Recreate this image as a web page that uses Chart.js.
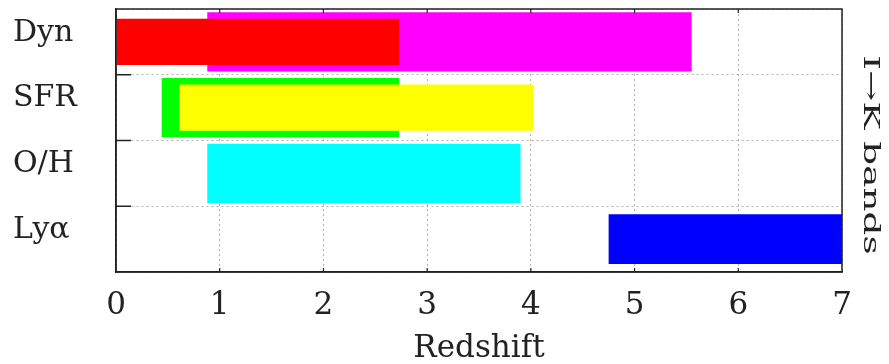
<!DOCTYPE html>
<html>
<head>
<meta charset="utf-8">
<script src="https://cdn.jsdelivr.net/npm/chart.js@4"></script>
<style>
  html, body { margin: 0; padding: 0; background: #ffffff; }
  #wrap { width: 889px; height: 364px; position: relative; }
</style>
</head>
<body>
<div id="wrap"><canvas id="c" width="889" height="364"></canvas></div>
<script>
// ---- data ----
const categories = ['Dyn', 'SFR', 'O/H', 'Ly\u03B1'];
const wideRanges = [[0.88, 5.55], [0.44, 2.73], [0.88, 3.90], null];
const wideColors = ['#ff00ff', '#00ff00', '#00ffff', '#0000ff'];
const narrowRanges = [[0, 2.73], [0.61, 4.02], null, null];
const narrowColors = ['#ff0000', '#ffff00', '#ff0000', '#ff0000'];
const lyaRanges = [null, null, null, [4.75, 7]];
const lyaColors = ['#0000ff', '#0000ff', '#0000ff', '#0000ff'];
const xTicks = [0, 1, 2, 3, 4, 5, 6, 7];
const xTitle = 'Redshift';
const rightLabel = 'I\u2192K bands';

const FONT = '"DejaVu Serif", "Liberation Serif", serif';
const INK = '#222222';
const GRID = '#b0b0b0';

const framePlugin = {
  id: 'frame',
  afterDraw(chart) {
    const { ctx, chartArea: a, scales } = chart;
    ctx.save();
    ctx.strokeStyle = INK;
    ctx.lineWidth = 1.5;
    ctx.strokeRect(a.left, a.top, a.right - a.left, a.bottom - a.top);
    // inward tick marks on the left axis at category boundaries
    const ys = scales.y;
    for (let i = 1; i < categories.length; i++) {
      const yb = (ys.getPixelForValue(i - 1) + ys.getPixelForValue(i)) / 2;
      ctx.beginPath();
      ctx.moveTo(a.left, yb);
      ctx.lineTo(a.left + 15, yb);
      ctx.stroke();
    }
    // small inward ticks on bottom and top at x ticks
    const xs = scales.x;
    ctx.lineWidth = 1.2;
    xTicks.forEach(v => {
      if (v === xTicks[0] || v === xTicks[xTicks.length - 1]) return;
      const xp = xs.getPixelForValue(v);
      ctx.beginPath();
      ctx.moveTo(xp, a.bottom);
      ctx.lineTo(xp, a.bottom - 4);
      ctx.moveTo(xp, a.top);
      ctx.lineTo(xp, a.top + 4);
      ctx.stroke();
    });
    // right side rotated label (stretched along its length like the reference)
    ctx.fillStyle = INK;
    ctx.font = '22px ' + FONT;
    ctx.textAlign = 'center';
    ctx.textBaseline = 'middle';
    ctx.translate(870, 155);
    ctx.rotate(Math.PI / 2);
    ctx.scale(1.7, 1);
    ctx.fillText(rightLabel, 0, 0);
    ctx.restore();
  }
};

new Chart(document.getElementById('c'), {
  type: 'bar',
  data: {
    labels: categories,
    datasets: [
      {
        label: 'narrow',
        data: narrowRanges,
        backgroundColor: narrowColors,
        borderWidth: 0,
        barPercentage: 0.70,
        categoryPercentage: 1,
        grouped: false,
        order: 0
      },
      {
        label: 'wide',
        data: wideRanges,
        backgroundColor: wideColors,
        borderWidth: 0,
        barPercentage: 0.90,
        categoryPercentage: 1,
        grouped: false,
        order: 1
      },
      {
        label: 'lya',
        data: lyaRanges,
        backgroundColor: lyaColors,
        borderWidth: 0,
        barPercentage: 0.76,
        categoryPercentage: 1,
        grouped: false,
        order: 2
      }
    ]
  },
  options: {
    indexAxis: 'y',
    responsive: false,
    animation: false,
    layout: { padding: { left: 13, top: 9, right: 47, bottom: 0 } },
    plugins: { legend: { display: false }, tooltip: { enabled: false } },
    scales: {
      x: {
        type: 'linear',
        min: 0,
        max: 7,
        afterBuildTicks(scale) { scale.ticks = xTicks.map(v => ({ value: v })); },
        afterFit(scale) {
          scale.height = 92;
          scale.paddingLeft = 0; scale.paddingRight = 0;
        },
        grid: {
          color: GRID,
          lineWidth: 1,
          drawTicks: false,
          tickLength: 0
        },
        border: { display: true, color: INK, width: 1.5, dash: [2, 3] },
        ticks: {
          color: INK,
          font: { family: FONT, size: 31 },
          padding: 15,
          maxRotation: 0
        },
        title: {
          display: true,
          text: xTitle,
          color: INK,
          font: { family: FONT, size: 31, lineHeight: 1 },
          padding: { top: 0, bottom: 0 }
        }
      },
      y: {
        type: 'category',
        offset: true,
        afterFit(scale) {
          scale.width = 103;
          scale.paddingTop = 0; scale.paddingBottom = 0;
        },
        grid: {
          offset: true,
          color: GRID,
          lineWidth: 1,
          drawTicks: false,
          tickLength: 0
        },
        border: { display: true, color: INK, width: 1.5, dash: [2, 3] },
        ticks: {
          color: INK,
          font: { family: FONT, size: 30 },
          crossAlign: 'far',
          padding: 0,
          labelOffset: -9
        }
      }
    }
  },
  plugins: [framePlugin]
});
</script>
</body>
</html>
